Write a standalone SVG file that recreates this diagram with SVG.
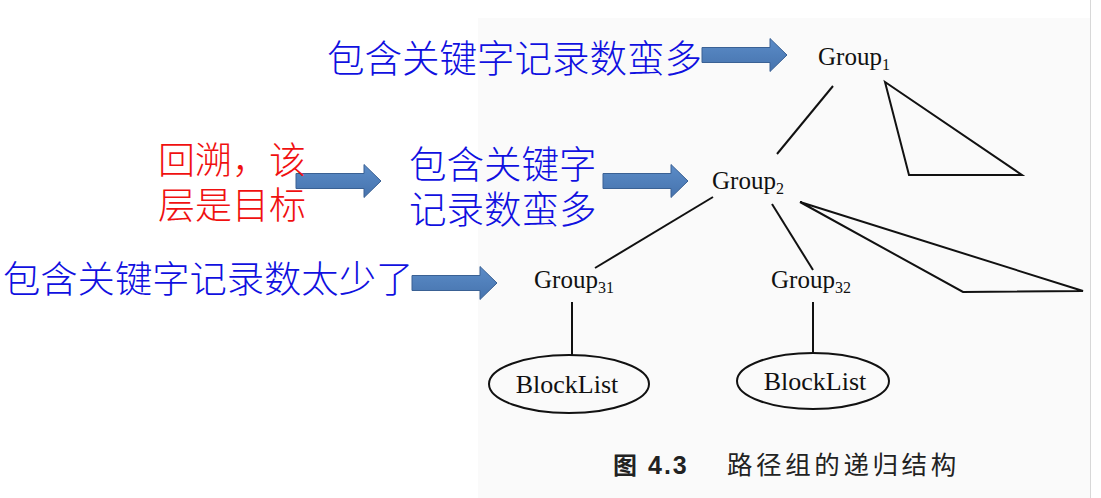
<svg xmlns="http://www.w3.org/2000/svg" width="1101" height="498" viewBox="0 0 1101 498">
  <defs>
    <linearGradient id="ag" x1="0" y1="0" x2="0" y2="1">
      <stop offset="0" stop-color="#5b8cc8"/>
      <stop offset="1" stop-color="#4673ad"/>
    </linearGradient>
    <path id="arr" d="M0,-7.5 H68 V-16.5 L85,0 L68,16.5 V7.5 H0 Z"/>
  </defs>
  <style>
    .cjk { font-family: "Noto Sans CJK SC", sans-serif; font-weight: 300; }
    .blue { fill: #1010e0; font-size: 37.5px; }
    .red { fill: #f01010; font-size: 37px; }
    .ser { font-family: "Liberation Serif", "Times New Roman", serif; fill: #111; }
    .grp { font-size: 25px; }
    .sub { font-size: 16px; }
    .bl { font-size: 26px; text-anchor: middle; }
    .ln { stroke: #111; stroke-width: 2; fill: none; stroke-linejoin: miter; }
    .ar { fill: url(#ag); stroke: #3a6194; stroke-width: 1; }
  </style>
  <rect width="1101" height="498" fill="#ffffff"/>
  <rect x="478" y="18" width="612" height="480" fill="#fafafa"/>
  <line x1="1090.5" y1="0" x2="1090.5" y2="498" stroke="#d8d8d8" stroke-width="1"/>

  <g id="connectors">
    <line class="ln" x1="833" y1="86" x2="777" y2="154"/>
    <line class="ln" x1="713" y1="197" x2="595" y2="268"/>
    <line class="ln" x1="772" y1="204" x2="813" y2="270"/>
    <line class="ln" x1="572" y1="302" x2="572" y2="355"/>
    <line class="ln" x1="813" y1="302" x2="813" y2="353"/>
    <use href="#arr" class="ar" transform="translate(702,55)"/>
    <use href="#arr" class="ar" transform="translate(296,181)"/>
    <use href="#arr" class="ar" transform="translate(603,181)"/>
    <use href="#arr" class="ar" transform="translate(412,283)"/>
  </g>

  <g id="label-top">
    <text class="cjk blue" x="327" y="72">包含关键字记录数蛮多</text>
  </g>
  <g id="label-backtrack">
    <text class="cjk red"><tspan x="158" y="174">回溯，该</tspan><tspan x="158" y="219">层是目标</tspan></text>
  </g>
  <g id="label-middle">
    <text class="cjk blue"><tspan x="409" y="178">包含关键字</tspan><tspan x="409" y="223">记录数蛮多</tspan></text>
  </g>
  <g id="label-bottom">
    <text class="cjk blue" x="3" y="293" style="font-size:37.3px">包含关键字记录数太少了</text>
  </g>

  <g id="group1">
    <text class="ser grp" x="818" y="65">Group<tspan class="sub" dy="5">1</tspan></text>
  </g>
  <g id="subtree1">
    <polygon class="ln" points="885,82 909,175 1022,175"/>
  </g>
  <g id="group2">
    <text class="ser grp" x="712" y="189">Group<tspan class="sub" dy="5">2</tspan></text>
  </g>
  <g id="subtree2">
    <polygon class="ln" points="800,202 963,292 1083,291"/>
  </g>
  <g id="group31">
    <text class="ser grp" x="534" y="288">Group<tspan class="sub" dy="5">31</tspan></text>
  </g>
  <g id="group32">
    <text class="ser grp" x="771" y="288">Group<tspan class="sub" dy="5">32</tspan></text>
  </g>
  <g id="blocklist1">
    <ellipse class="ln" cx="569" cy="384" rx="80" ry="29"/>
    <text class="ser bl" x="567" y="393">BlockList</text>
  </g>
  <g id="blocklist2">
    <ellipse class="ln" cx="813" cy="381" rx="76" ry="28"/>
    <text class="ser bl" x="815" y="390">BlockList</text>
  </g>

  <g id="caption">
    <text x="613" y="474" font-family="Noto Sans CJK SC, sans-serif" font-weight="bold" font-size="24" fill="#222">图</text>
    <text x="648" y="474" font-family="Liberation Sans, sans-serif" font-weight="bold" font-size="25" letter-spacing="2" fill="#222">4.3</text>
    <text x="727" y="474" font-family="Noto Sans CJK SC, sans-serif" font-size="25.5" letter-spacing="3.6" fill="#222">路径组的递归结构</text>
  </g>
</svg>
